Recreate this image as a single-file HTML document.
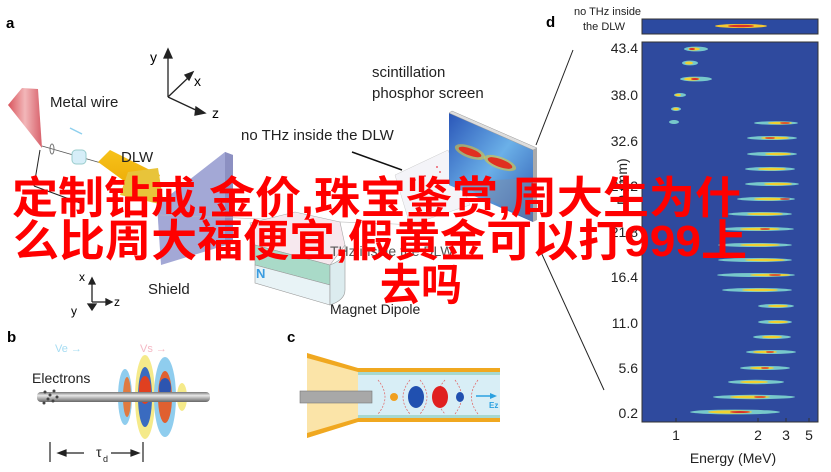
<!DOCTYPE html>
<html><head><meta charset="utf-8"><style>
html,body{margin:0;padding:0;background:#fff;}
svg{display:block;}
text{font-family:"Liberation Sans",sans-serif;}
</style></head><body>
<svg width="831" height="472" viewBox="0 0 831 472" xmlns="http://www.w3.org/2000/svg">
<defs>
<linearGradient id="cone" x1="0" x2="1"><stop offset="0" stop-color="#d9545c"/><stop offset="0.5" stop-color="#f2b7b9"/><stop offset="1" stop-color="#d8606a"/></linearGradient>
<linearGradient id="rod" x1="0" y1="0" x2="0" y2="1"><stop offset="0" stop-color="#777"/><stop offset="0.35" stop-color="#e8e8e8"/><stop offset="1" stop-color="#666"/></linearGradient>
<linearGradient id="gold" x1="0" y1="0" x2="0" y2="1"><stop offset="0" stop-color="#f7c21a"/><stop offset="1" stop-color="#e9a400"/></linearGradient>
<linearGradient id="scr" x1="0" y1="0" x2="1" y2="1"><stop offset="0" stop-color="#2a56b8"/><stop offset="0.5" stop-color="#6bb0e8"/><stop offset="1" stop-color="#2d58b0"/></linearGradient>
</defs>

<text x="6" y="28" font-size="15" font-weight="bold">a</text>
<text x="546" y="27" font-size="15" font-weight="bold">d</text>
<text x="7" y="342" font-size="15" font-weight="bold">b</text>
<text x="287" y="342" font-size="15" font-weight="bold">c</text>

<g stroke="#222" stroke-width="1.3" fill="#222">
<line x1="168" y1="97" x2="168" y2="55"/><polygon points="164,58 168,49 172,58"/>
<line x1="168" y1="97" x2="190" y2="76"/><polygon points="185,75 193,72 189,80"/>
<line x1="168" y1="97" x2="200" y2="112"/><polygon points="196,107 205,113 195,115"/>
</g>
<text x="150" y="62" font-size="14">y</text>
<text x="194" y="86" font-size="14">x</text>
<text x="212" y="118" font-size="14">z</text>

<polygon points="8,105 22,88 38,89 42,148" fill="url(#cone)"/>
<text x="50" y="107" font-size="15" fill="#222">Metal wire</text>
<line x1="70" y1="128" x2="82" y2="134" stroke="#8fd0ee" stroke-width="1.5"/>
<line x1="42" y1="146" x2="108" y2="165" stroke="#555" stroke-width="0.8"/>
<ellipse cx="52" cy="149" rx="2" ry="5" fill="none" stroke="#777"/>
<rect x="72" y="150" width="14" height="14" rx="4" fill="#d6eef8" stroke="#9cc"/>
<polygon points="98,162 110,150 160,175 150,200" fill="url(#gold)"/>
<polygon points="128,172 158,168 164,205 120,195" fill="#e8c43a"/>
<text x="121" y="162" font-size="15" fill="#222">DLW</text>
<line x1="40" y1="150" x2="34" y2="186" stroke="#222" stroke-width="1"/>
<line x1="34" y1="186" x2="80" y2="203" stroke="#222" stroke-width="1"/>

<polygon points="157,205 225,152 233,155 233,243 161,265" fill="#a3a8d6"/>
<polygon points="225,152 233,155 233,243 225,240" fill="#8c90c2"/>
<line x1="160" y1="215" x2="420" y2="225" stroke="#bbb" stroke-width="0.6"/>
<text x="148" y="294" font-size="15" fill="#222">Shield</text>
<g stroke="#222" stroke-width="1.3" fill="#222">
<line x1="92" y1="302" x2="92" y2="282"/><polygon points="89,284 92,278 95,284"/>
<line x1="92" y1="302" x2="108" y2="302"/><polygon points="106,299 112,302 106,305"/>
<polygon points="88,304 92,310 96,304"/>
</g>
<text x="79" y="281" font-size="12">x</text>
<text x="114" y="306" font-size="12">z</text>
<text x="71" y="315" font-size="12">y</text>

<polygon points="250,223 295,212 340,222 345,245 330,265 255,245" fill="#f6e8ee" stroke="#aaa" stroke-width="0.6"/>
<polygon points="255,245 330,265 330,285 255,265" fill="#a9dac8" stroke="#999" stroke-width="0.6"/>
<polygon points="255,265 330,285 330,305 255,283" fill="#e8f3f6" stroke="#999" stroke-width="0.6"/>
<path d="M330,265 Q348,258 345,245 L345,290 Q345,300 330,305Z" fill="#dcecef" stroke="#999" stroke-width="0.6"/>
<text x="256" y="278" font-size="13" fill="#3a9ce0" font-weight="bold">N</text>
<text x="330" y="314" font-size="14" fill="#222">Magnet Dipole</text>

<polygon points="395,175 448,150 470,205 410,225" fill="#f4f4f8" stroke="#ccc" stroke-width="0.5"/>
<g fill="#e34">
<circle cx="415" cy="180" r="0.9"/><circle cx="425" cy="176" r="0.9"/><circle cx="432" cy="184" r="0.9"/><circle cx="440" cy="172" r="0.9"/><circle cx="420" cy="190" r="0.9"/><circle cx="445" cy="190" r="0.9"/><circle cx="450" cy="178" r="0.9"/><circle cx="437" cy="167" r="0.9"/>
</g>
<line x1="352" y1="152" x2="402" y2="170" stroke="#111" stroke-width="1.5"/>
<text x="241" y="140" font-size="15" fill="#222">no THz inside the DLW</text>
<text x="372" y="77" font-size="15" fill="#222">scintillation</text>
<text x="372" y="98" font-size="15" fill="#222">phosphor screen</text>
<polygon points="449,113 533,150 533,222 449,185" fill="url(#scr)"/>
<polygon points="449,113 452,111 537,148 533,150" fill="#ddd" stroke="#999" stroke-width="0.5"/>
<polygon points="533,150 537,148 537,220 533,222" fill="#aaa"/>
<ellipse cx="470" cy="152" rx="16" ry="6" fill="#f5d020" opacity="0.5" transform="rotate(20 470 152)"/>
<ellipse cx="500" cy="163" rx="17" ry="6" fill="#f5d020" opacity="0.5" transform="rotate(20 500 163)"/>
<ellipse cx="470" cy="152" rx="12" ry="3.5" fill="#e03020" transform="rotate(20 470 152)"/>
<ellipse cx="500" cy="163" rx="13" ry="4" fill="#e03020" transform="rotate(20 500 163)"/>
<polygon points="455,182 533,178 533,222" fill="#7c8ca8" opacity="0.5"/>
<line x1="573" y1="50" x2="536" y2="145" stroke="#222" stroke-width="1"/>
<line x1="540" y1="250" x2="604" y2="390" stroke="#222" stroke-width="1"/>
<text x="330" y="256" font-size="14" fill="#555">THz inside the DLW</text>

<text x="574" y="15" font-size="11" fill="#222">no THz inside</text>
<text x="583" y="30" font-size="11" fill="#222">the DLW</text>
<rect x="642" y="19" width="176" height="15" fill="#2c4aa0" stroke="#333"/>
<ellipse cx="741" cy="26" rx="26" ry="2" fill="#f5c830"/><ellipse cx="741" cy="26" rx="13" ry="1.2" fill="#d8302a"/>
<rect x="642" y="42" width="176" height="380" fill="#2f4a9e" stroke="#333"/>
<g>
<g fill="#7fd6d0" opacity="0.9">
<ellipse cx="696" cy="49" rx="12" ry="2.4"/><ellipse cx="690" cy="63" rx="8" ry="2.4"/><ellipse cx="696" cy="79" rx="16" ry="2.4"/><ellipse cx="680" cy="95" rx="6" ry="2"/><ellipse cx="676" cy="109" rx="5" ry="2"/><ellipse cx="674" cy="122" rx="5" ry="2"/>
<ellipse cx="776" cy="123" rx="22" ry="1.8"/><ellipse cx="772" cy="138" rx="25" ry="2"/><ellipse cx="772" cy="154" rx="25" ry="2"/><ellipse cx="770" cy="169" rx="25" ry="2"/><ellipse cx="772" cy="184" rx="27" ry="2"/><ellipse cx="766" cy="199" rx="29" ry="2"/><ellipse cx="760" cy="214" rx="32" ry="2"/><ellipse cx="757" cy="229" rx="37" ry="2"/><ellipse cx="755" cy="245" rx="37" ry="2"/><ellipse cx="755" cy="260" rx="37" ry="2"/><ellipse cx="756" cy="275" rx="39" ry="2"/><ellipse cx="757" cy="290" rx="35" ry="2"/><ellipse cx="776" cy="306" rx="18" ry="2"/><ellipse cx="775" cy="322" rx="17" ry="2"/><ellipse cx="772" cy="337" rx="19" ry="2"/><ellipse cx="771" cy="352" rx="25" ry="2"/><ellipse cx="765" cy="368" rx="25" ry="2"/><ellipse cx="756" cy="382" rx="28" ry="2.2"/><ellipse cx="754" cy="397" rx="41" ry="2.2"/><ellipse cx="735" cy="412" rx="45" ry="2.4"/>
</g>
<g fill="#f2d030">
<ellipse cx="694" cy="49" rx="6" ry="1.5"/><ellipse cx="689" cy="63" rx="4" ry="1.5"/><ellipse cx="692" cy="79" rx="8" ry="1.6"/><ellipse cx="678" cy="95" rx="3" ry="1.3"/><ellipse cx="676" cy="109" rx="3" ry="1.3"/>
<ellipse cx="780" cy="123" rx="12" ry="1.2"/><ellipse cx="775" cy="138" rx="14" ry="1.2"/><ellipse cx="778" cy="154" rx="13" ry="1.2"/><ellipse cx="772" cy="169" rx="14" ry="1.2"/><ellipse cx="778" cy="184" rx="14" ry="1.2"/><ellipse cx="770" cy="199" rx="16" ry="1.2"/><ellipse cx="765" cy="214" rx="18" ry="1.2"/><ellipse cx="760" cy="229" rx="20" ry="1.2"/><ellipse cx="760" cy="245" rx="20" ry="1.2"/><ellipse cx="765" cy="260" rx="20" ry="1.2"/><ellipse cx="770" cy="275" rx="20" ry="1.2"/><ellipse cx="760" cy="290" rx="18" ry="1.2"/><ellipse cx="778" cy="306" rx="10" ry="1.2"/><ellipse cx="778" cy="322" rx="10" ry="1.2"/><ellipse cx="772" cy="337" rx="10" ry="1.2"/><ellipse cx="765" cy="352" rx="12" ry="1.2"/><ellipse cx="762" cy="368" rx="12" ry="1.2"/><ellipse cx="754" cy="382" rx="14" ry="1.2"/><ellipse cx="750" cy="397" rx="20" ry="1.4"/><ellipse cx="730" cy="412" rx="22" ry="1.6"/>
</g>
<g fill="#d8302a">
<ellipse cx="692" cy="49" rx="3" ry="1"/><ellipse cx="695" cy="79" rx="4" ry="1"/><ellipse cx="785" cy="123" rx="5" ry="0.8"/><ellipse cx="770" cy="138" rx="5" ry="0.8"/><ellipse cx="785" cy="199" rx="5" ry="0.8"/><ellipse cx="765" cy="229" rx="5" ry="0.8"/><ellipse cx="775" cy="275" rx="6" ry="0.8"/><ellipse cx="770" cy="352" rx="4" ry="0.8"/><ellipse cx="760" cy="397" rx="6" ry="0.8"/><ellipse cx="740" cy="412" rx="10" ry="1"/><ellipse cx="765" cy="368" rx="4" ry="0.8"/>
</g>
</g>
<g stroke="#333" stroke-width="1">
<line x1="676" y1="422" x2="676" y2="418"/><line x1="758" y1="422" x2="758" y2="418"/><line x1="786" y1="422" x2="786" y2="418"/><line x1="809" y1="422" x2="809" y2="418"/>
</g>
<g font-size="14" fill="#222" text-anchor="end">
<text x="638" y="53">43.4</text><text x="638" y="100">38.0</text><text x="638" y="146">32.6</text><text x="638" y="191">27.2</text><text x="638" y="237">21.8</text><text x="638" y="282">16.4</text><text x="638" y="328">11.0</text><text x="638" y="373">5.6</text><text x="638" y="418">0.2</text>
</g>
<text x="627" y="205" font-size="14" fill="#222" transform="rotate(-90 627 205)">D (mm)</text>
<g font-size="14" fill="#222" text-anchor="middle">
<text x="676" y="440">1</text><text x="758" y="440">2</text><text x="786" y="440">3</text><text x="809" y="440">5</text>
<text x="733" y="463">Energy (MeV)</text>
</g>

<text x="55" y="352" font-size="11" fill="#a6dcf2">Ve →</text>
<text x="140" y="352" font-size="11" fill="#f4b8c4">Vs →</text>
<text x="32" y="383" font-size="14" fill="#222">Electrons</text>
<ellipse cx="125" cy="397" rx="7" ry="28" fill="#8fcdee"/>
<ellipse cx="145" cy="397" rx="10" ry="42" fill="#f5ea8a"/>
<ellipse cx="165" cy="397" rx="11" ry="40" fill="#8fcdee"/>
<ellipse cx="182" cy="397" rx="5" ry="14" fill="#f5ea8a"/>
<ellipse cx="127" cy="397" rx="4" ry="20" fill="#e07a40"/>
<ellipse cx="145" cy="397" rx="7" ry="30" fill="#3a6bc0"/>
<ellipse cx="145" cy="390" rx="6" ry="14" fill="#e04020"/>
<ellipse cx="165" cy="397" rx="7" ry="26" fill="#e06030"/>
<ellipse cx="165" cy="388" rx="6" ry="10" fill="#2d55b0"/>
<rect x="37" y="392" width="173" height="10" rx="4" fill="url(#rod)"/>
<g fill="#444"><circle cx="45" cy="392" r="1.5"/><circle cx="50" cy="395" r="1.5"/><circle cx="54" cy="391" r="1.5"/><circle cx="48" cy="399" r="1.5"/><circle cx="53" cy="401" r="1.5"/><circle cx="57" cy="397" r="1.5"/><circle cx="44" cy="403" r="1.5"/></g>
<g stroke="#222" stroke-width="1.2" fill="#222">
<line x1="50" y1="442" x2="50" y2="462"/><line x1="143" y1="442" x2="143" y2="462"/>
<line x1="60" y1="453" x2="84" y2="453"/><polygon points="58,453 66,450 66,456"/>
<line x1="111" y1="453" x2="136" y2="453"/><polygon points="139,453 131,450 131,456"/>
</g>
<text x="96" y="457" font-size="14" fill="#222">τ</text><text x="103" y="462" font-size="9" fill="#222">d</text>

<polygon points="307,353 358,370 358,422 307,438" fill="#fbe4a8"/>
<polygon points="307,353 358,368 358,372 307,358" fill="#f0a820"/>
<polygon points="307,433 358,418 358,422 307,438" fill="#f0a820"/>
<rect x="358" y="370" width="142" height="52" fill="#d8eef6"/>
<rect x="358" y="368" width="142" height="4" fill="#f0a820"/>
<rect x="358" y="418" width="142" height="4" fill="#f0a820"/>
<rect x="358" y="372" width="142" height="3" fill="#a6d8d0"/>
<rect x="358" y="415" width="142" height="3" fill="#a6d8d0"/>
<rect x="300" y="391" width="72" height="12" fill="#a8a8a8" stroke="#777" stroke-width="0.6"/>
<g stroke="#e06060" stroke-width="0.7" stroke-dasharray="2,1.5" fill="none">
<path d="M378,380 Q392,397 378,414"/><path d="M410,380 Q396,397 410,414"/><path d="M420,380 Q434,397 420,414"/><path d="M445,380 Q430,397 445,414"/><path d="M455,380 Q468,397 455,414"/><path d="M478,380 Q465,397 478,414"/>
</g>
<circle cx="394" cy="397" r="4" fill="#f0a020"/>
<ellipse cx="416" cy="397" rx="8" ry="11" fill="#2050b0"/>
<ellipse cx="440" cy="397" rx="8" ry="11" fill="#e02020"/>
<ellipse cx="460" cy="397" rx="4" ry="5" fill="#2050b0"/>
<line x1="476" y1="396" x2="494" y2="396" stroke="#2aa0e0" stroke-width="1.5"/><polygon points="497,396 490,393 490,399" fill="#2aa0e0"/>
<text x="489" y="408" font-size="8" fill="#2aa0e0" font-weight="bold">Ez</text>

<g fill="#ff0000" font-weight="bold" font-size="44">
<text x="12" y="213" textLength="729" lengthAdjust="spacingAndGlyphs" style="font-family:'Liberation Sans','Noto Sans CJK SC',sans-serif">定制钻戒,金价,珠宝鉴赏,周大生为什</text>
<text x="13" y="256" textLength="734" lengthAdjust="spacingAndGlyphs" style="font-family:'Liberation Sans','Noto Sans CJK SC',sans-serif">么比周大福便宜,假黄金可以打999上</text>
<text x="380" y="300" textLength="82" lengthAdjust="spacingAndGlyphs" style="font-family:'Liberation Sans','Noto Sans CJK SC',sans-serif">去吗</text>
</g>
</svg>
</body></html>
